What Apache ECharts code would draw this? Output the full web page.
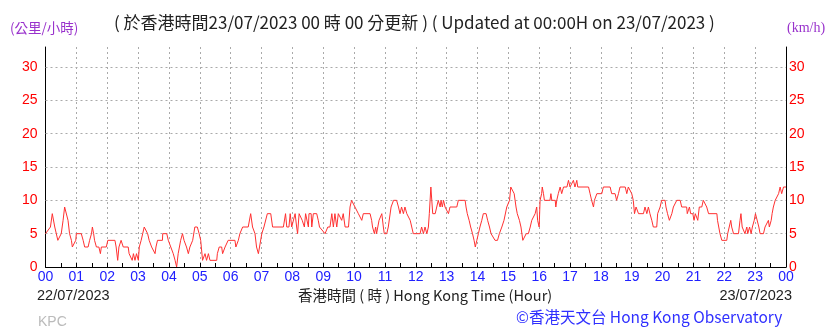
<!DOCTYPE html>
<html>
<head>
<meta charset="utf-8">
<script src="https://cdn.jsdelivr.net/npm/echarts@6/dist/echarts.min.js"></script>
<style>
html,body{margin:0;padding:0;background:#fff;}
#c{width:838px;height:331px;}
</style>
</head>
<body>
<div id="c"></div>
<script>
// Hour of day (HKT, 22/07/2023 00:00 -> 23/07/2023 00:00)
var hours = [
0.00,0.05,0.16,0.22,0.27,0.30,0.35,0.40,0.46,0.51,0.57,0.62,0.68,0.73,0.78,0.84,0.87,0.92,0.98,1.00,1.16,1.22,1.27,1.38,1.43,1.49,1.52,1.56,1.59,1.65,1.73,1.78,1.81,1.97,2.02,
2.25,2.29,2.34,2.38,2.45,2.52,2.68,2.71,2.77,2.81,2.85,2.90,2.95,3.01,3.04,3.10,3.15,3.20,3.25,3.31,3.36,3.44,3.49,3.55,3.58,3.63,3.79,3.80,3.93,3.98,
4.06,4.14,4.20,4.25,4.30,4.38,4.44,4.49,4.57,4.63,4.68,4.77,4.84,4.92,4.98,5.03,5.09,5.17,5.22,5.28,5.33,5.55,5.57,5.63,5.71,5.74,5.82,5.92,6.14,6.17,6.25,6.30,6.39,6.57,6.65,6.71,6.79,6.84,6.90,7.01,7.08,7.19,7.30,7.36,7.71,7.78,
7.82,7.89,7.93,7.98,8.03,8.09,8.14,8.17,8.22,8.28,8.32,8.39,8.43,8.52,8.54,8.61,8.63,8.68,8.79,8.84,8.88,8.93,9.06,9.15,9.22,9.28,9.33,9.38,9.44,9.49,9.55,9.60,9.65,9.71,9.82,9.87,9.92,9.98,10.03,10.09,10.14,10.19,10.25,10.30,10.52,10.57,10.60,10.66,10.70,10.73,10.81,10.90,10.95,10.98,11.06,11.11,11.20,11.28,11.38,11.44,11.49,11.54,11.60,11.65,11.71,11.76,11.82,
11.87,11.92,12.14,12.19,12.25,12.30,12.36,12.41,12.44,12.49,12.52,12.55,12.63,12.68,12.73,12.79,12.82,12.86,12.90,12.95,13.00,13.06,13.11,13.33,13.38,13.60,13.63,13.67,13.73,13.78,13.84,13.89,13.93,13.98,14.03,14.08,14.14,14.19,14.28,14.33,14.39,14.44,14.50,14.57,14.65,14.71,14.79,14.86,14.95,15.04,15.08,15.14,15.19,15.25,15.29,15.36,15.41,15.47,15.51,15.58,15.65,15.71,15.76,15.81,15.87,15.92,15.95,16.00,16.03,16.08,16.10,
16.14,16.17,16.35,16.38,16.41,16.52,16.54,16.57,16.62,16.68,16.73,16.79,16.90,16.95,17.00,17.06,17.11,17.16,17.22,17.25,17.60,17.65,17.70,17.76,17.79,17.83,17.87,18.03,18.08,18.30,18.35,18.46,18.51,18.57,18.62,18.79,18.84,18.89,18.95,19.00,19.05,19.09,19.14,19.22,19.38,19.43,19.49,19.54,19.59,19.65,19.70,19.81,19.84,19.92,19.97,
20.08,20.11,20.16,20.22,20.30,20.35,20.46,20.57,20.62,20.78,20.80,20.87,20.91,20.98,21.02,21.06,21.11,21.14,21.19,21.27,21.32,21.38,21.43,21.49,21.76,21.78,21.82,21.86,21.92,22.08,22.11,22.16,22.21,22.24,22.30,22.46,22.51,22.54,22.58,22.62,22.67,22.73,22.76,22.82,22.87,22.91,22.97,23.01,23.07,23.12,23.16,23.27,23.32,23.38,23.43,23.46,23.52,23.55,23.59,23.65,23.70,23.76,23.81,23.86,23.92,24.00
];
// Wind speed (km/h)
var speeds = [
5,5,6,8,8,6,5,4,4,5,7,9,9,7,5,4,3,3,4,5,5,4,3,3,4,5,6,5,4,3,3,2,3,3,4,
4,3,1,3,4,3,3,2,2,1,2,1,2,1,3,4,5,6,6,5,4,3,3,2,3,4,4,5,5,4,
3,2,1,0,2,4,5,4,3,2,3,4,6,6,5,4,1,2,1,2,1,1,2,3,3,2,3,4,4,3,4,5,6,6,8,6,5,3,2,5,6,8,8,6,6,8,
6,6,8,6,6,8,6,5,8,8,7,6,8,6,8,8,6,8,8,7,6,6,5,6,6,8,6,8,6,8,8,7,8,6,6,9,10,10,9,9,8,8,7,8,8,7,6,5,6,5,7,8,6,5,5,6,9,10,10,9,8,9,8,9,8,8,7,
6,5,5,6,5,6,5,6,8,12,10,8,8,9,10,9,10,9,10,9,9,8,9,9,10,10,9,8,7,6,5,4,3,4,5,6,7,8,8,7,6,5,5,4,4,5,6,7,9,10,12,12,11,9,8,7,6,4,4,5,5,6,7,7,8,9,7,6,10,11,12,
11,10,10,11,10,10,9,10,11,12,11,12,12,13,12,12,13,12,13,12,12,11,10,9,10,10,11,11,12,12,11,11,10,11,12,12,11,12,12,11,10,8,9,8,8,9,8,9,8,7,6,6,8,9,10,
10,9,8,7,8,9,10,10,9,9,8,9,8,8,7,8,8,7,9,9,10,10,9,8,8,7,6,5,4,4,5,6,7,6,5,5,7,8,6,6,5,6,5,6,5,6,7,8,8,6,5,5,6,6,7,6,7,8,9,10,10,11,12,11,12,12
];
var yTicks = [0,5,10,15,20,25,30];
var hourLabels = ['00','01','02','03','04','05','06','07','08','09','10','11','12','13','14','15','16','17','18','19','20','21','22','23','00'];

var pts = hours.map(function(h,i){return [h, speeds[i]];});
var NARROW = "'Liberation Sans Narrow','Arial Narrow','Liberation Sans',sans-serif";
var CJK = "'Liberation Sans Narrow','Noto Sans CJK TC',sans-serif";

var chart = echarts.init(document.getElementById('c'), null, {renderer:'canvas'});
var yLabel = {color:'#ff0000', fontSize:14, fontFamily:NARROW, showMaxLabel:false,
  formatter:function(v){return yTicks.indexOf(v)>=0 ? String(v) : '';}};
chart.setOption({
  animation:false,
  backgroundColor:'#ffffff',
  grid:{left:45.5, right:52, top:47, bottom:64, containLabel:false},
  xAxis:{type:'value', min:0, max:24, interval:1,
    axisLine:{show:true, onZero:false, lineStyle:{color:'#000', width:1}},
    axisTick:{show:true, inside:true, length:4, lineStyle:{color:'#000'}},
    minorTick:{show:true, splitNumber:2, length:4, lineStyle:{color:'#000'}},
    axisLabel:{color:'#2020ff', fontSize:14, fontFamily:NARROW, margin:3,
      formatter:function(v){return hourLabels[Math.round(v)];}},
    splitLine:{show:true, lineStyle:{color:'#aaaaaa', type:[2,3], width:1}}
  },
  yAxis:[
    {type:'value', min:0, max:33, interval:5, position:'left',
     axisLine:{show:true, lineStyle:{color:'#000', width:1}}, axisTick:{show:false},
     axisLabel:Object.assign({margin:8}, yLabel), splitLine:{show:false}},
    {type:'value', min:0, max:33, interval:5, position:'right',
     axisLine:{show:true, lineStyle:{color:'#000', width:1}}, axisTick:{show:false},
     axisLabel:Object.assign({margin:3}, yLabel), splitLine:{show:false}}
  ],
  series:[{
    type:'line', data:pts, showSymbol:false, symbol:'none',
    lineStyle:{color:'#ff3030', width:1}, z:5,
    markLine:{silent:true, symbol:['none','none'], label:{show:false},
      lineStyle:{color:'#aaaaaa', type:[2,3], width:1},
      data: yTicks.filter(function(v){return v>0;}).map(function(v){return {yAxis:v};})}
  }],
  graphic:[
    {type:'text', left:10, top:21, style:{text:'(公里/小時)', fill:'#9932cc', font:"13.5px 'Noto Sans CJK TC',sans-serif"}},
    {type:'text', left:114, top:14, style:{text:'( 於香港時間23/07/2023 00 時 00 分更新 ) ( Updated at 00:00H on 23/07/2023 )', fill:'#222', font:"17px " + CJK}},
    {type:'text', left:787, top:21, style:{text:'(km/h)', fill:'#9932cc', font:"14px 'Liberation Serif',serif"}},
    {type:'text', left:37, top:288, style:{text:'22/07/2023', fill:'#222', font:"14.5px " + NARROW}},
    {type:'text', left:298, top:288, style:{text:'香港時間 ( 時 ) Hong Kong Time (Hour)', fill:'#222', font:"14.5px " + CJK}},
    {type:'text', right:46, top:288, style:{text:'23/07/2023', fill:'#222', font:"14.5px " + NARROW}},
    {type:'text', left:38, top:315, style:{text:'KPC', fill:'#bbbbbb', font:"14px " + NARROW}},
    {type:'text', left:516, top:309, style:{text:'©香港天文台 Hong Kong Observatory', fill:'#3030ff', font:"15.5px " + CJK}}
  ]
});
</script>
</body>
</html>
